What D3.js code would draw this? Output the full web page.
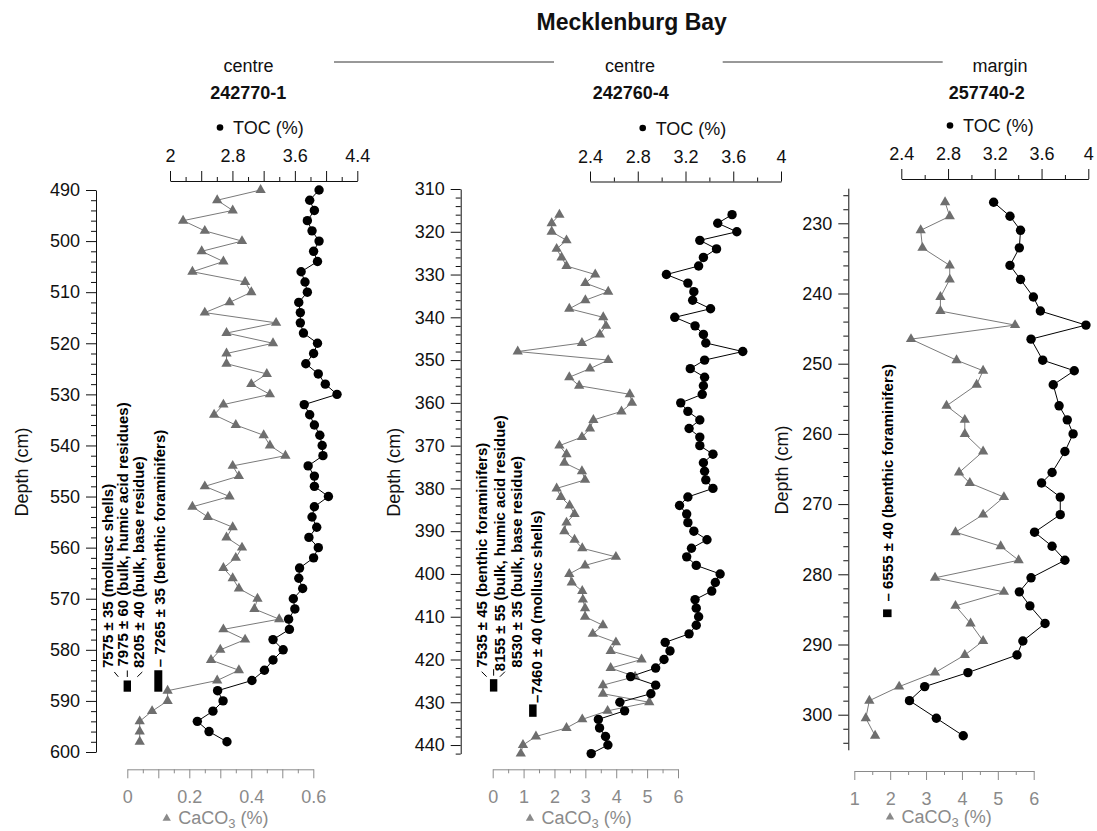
<!DOCTYPE html>
<html>
<head>
<meta charset="utf-8">
<script src="https://cdn.jsdelivr.net/npm/d3@7"></script>
<style>
  body { margin: 0; background: #fff; }
  svg text { font-family: "Liberation Sans", Arial, Helvetica, sans-serif; }
</style>
</head>
<body>
<svg id="chart" width="1097" height="831"></svg>
<script>
// ---------- Core 242770-1 (basin centre) ----------
const depth1 = [490,492,494,496,498,500,502,504,506,508,510,512,514,516,518,520,522,524,526,528,
  530,532,534,536,538,540,542,544,546,548,550,552,554,556,558,560,562,564,566,568,
  570,572,574,576,578,580,582,584,586,588,590,592,594,596,598];
const caco3_1 = [0.43,0.29,0.34,0.18,0.25,0.37,0.24,0.31,0.21,0.38,0.40,0.33,0.25,0.48,0.32,0.47,0.32,0.32,0.45,0.40,
  0.46,0.31,0.28,0.35,0.44,0.46,0.51,0.34,0.36,0.25,0.33,0.21,0.26,0.34,0.32,0.37,0.35,0.31,0.34,0.36,
  0.42,0.41,0.49,0.31,0.38,0.30,0.27,0.36,0.29,0.13,0.13,0.08,0.04,0.04,0.04];
const toc_1 = [3.91,3.79,3.85,3.76,3.82,3.91,3.84,3.89,3.68,3.73,3.76,3.65,3.67,3.67,3.71,3.89,3.84,3.74,3.90,3.99,
  4.14,3.72,3.79,3.85,3.92,3.95,3.96,3.77,3.85,3.85,4.03,3.85,3.82,3.88,3.78,3.90,3.84,3.66,3.65,3.70,
  3.58,3.60,3.52,3.53,3.32,3.45,3.32,3.21,3.05,2.61,2.68,2.55,2.35,2.50,2.73];

// ---------- Core 242760-4 (basin centre) ----------
const depth2 = [316,318,320,322,324,326,328,330,332,334,336,338,340,342,344,346,348,350,352,354,
  356,358,360,362,364,366,368,370,372,374,376,378,380,382,384,386,388,390,392,394,
  396,398,400,402,404,406,408,410,412,414,416,418,420,422,424,426,428,430,432,434,
  436,438,440,442];
const caco3_2 = [2.16,1.91,1.91,2.39,2.07,2.23,2.39,3.32,3.00,3.74,3.00,2.48,3.58,3.67,3.47,2.89,0.81,3.74,3.15,2.48,
  2.80,4.44,4.51,4.17,3.26,3.15,2.89,2.16,2.39,2.32,2.89,2.99,2.07,2.21,2.49,2.65,2.39,2.32,2.65,2.90,
  3.99,2.99,2.48,2.56,2.90,2.92,2.99,2.99,3.57,3.24,3.99,3.82,4.82,3.82,4.61,3.57,3.57,5.07,3.72,2.90,
  2.39,1.40,0.98,0.91];
const toc_2 = [3.59,3.47,3.63,3.32,3.46,3.35,3.31,3.04,3.22,3.27,3.26,3.41,3.11,3.28,3.35,3.37,3.68,3.36,3.24,3.36,
  3.35,3.34,3.16,3.22,3.32,3.23,3.32,3.32,3.43,3.35,3.36,3.37,3.43,3.22,3.15,3.21,3.22,3.27,3.38,3.25,
  3.21,3.29,3.49,3.45,3.42,3.28,3.29,3.31,3.29,3.23,3.03,3.07,3.02,2.95,2.74,2.95,2.91,2.65,2.69,2.47,
  2.48,2.53,2.55,2.41];

// ---------- Core 257740-2 (basin margin) ----------
const depth3 = [227,229,231,233.5,236,238,240.5,242.5,244.5,246.5,249.5,251,253,256,258,260,262.5,265.5,267,269,
  271.5,274,276,278,280.5,282.5,284.5,287,289.5,291.5,294,296,298,300.5,303];
const caco3_3 = [3.53,3.66,2.85,2.90,3.66,3.66,3.40,3.40,5.48,2.58,3.85,4.59,4.41,3.57,4.08,4.08,4.59,3.92,4.22,5.17,
  4.59,3.82,5.08,5.58,3.25,5.17,3.82,4.24,4.59,4.08,3.25,2.25,1.42,1.32,1.58];
const toc_3 = [3.19,3.33,3.42,3.41,3.33,3.42,3.53,3.59,3.98,3.51,3.61,3.88,3.70,3.75,3.82,3.87,3.80,3.69,3.60,3.76,
  3.76,3.54,3.69,3.80,3.51,3.41,3.50,3.63,3.44,3.39,2.97,2.60,2.47,2.70,2.93];

// ---------- Axis ticks ----------
const depthTicks1 = [490,500,510,520,530,540,550,560,570,580,590,600];
const depthTicks2 = [310,320,330,340,350,360,370,380,390,400,410,420,430,440];
const depthTicks3 = [230,240,250,260,270,280,290,300];
const tocTicks1 = [2,2.4,2.8,3.2,3.6,4,4.4];
const tocLabels1 = [2,2.8,3.6,4.4];
const tocTicks23 = [2.4,2.8,3.2,3.6,4];
const caco3Ticks1 = [0,0.1,0.2,0.3,0.4,0.5,0.6];
const caco3Labels1 = [0,0.2,0.4,0.6];
const caco3Ticks2 = [0,1,2,3,4,5,6];
const caco3Ticks3 = [1,2,3,4,5,6];

// ---------- Radiocarbon dates (sample depth range, CaCO3 position) ----------
const datesFan1 = ["7575 ± 35 (mollusc shells)", "7975 ± 60 (bulk, humic acid residues)", "8205 ± 40 (bulk, base residue)"];
const dateFanSample1 = [586, 588.2, 0];
const dateSingle1 = "– 7265 ± 35 (benthic foraminifers)";
const dateSingleSample1 = [584, 588.2, 0.1];

const datesFan2 = ["7535 ± 45 (benthic foraminifers)", "8155 ± 55 (bulk, humic acid residue)", "8530 ± 35 (bulk, base residue)"];
const dateFanSample2 = [424.6, 427.5, 0.03];
const dateSingle2 = "–7460 ± 40 (mollusc shells)";
const dateSingleSample2 = [430.5, 433.4, 1.3];

const dateSingle3 = "– 6555 ± 40 (benthic foraminifers)";
const dateSingleSample3 = [285, 286.1, 1.92];

// ---------- Styles ----------
const GREY = "#6e6e6e";
const AXIS_GREY = "#8a8a8a";
const FONT = 18;

const svg = d3.select("#chart");

const panels = [
  { site: "centre", core: "242770-1", depth: depth1, caco3: caco3_1, toc: toc_1,
    dDom: [490, 600], dRange: [190, 752], dTicks: depthTicks1, dMinorFrom: 492,
    axisX: 96, depthLabelX: 27.5,
    tDom: [2, 4.4], tRange: [170, 357.3], tTicks: tocTicks1, tLabels: tocLabels1, tAxisY: 181,
    cDom: [0, 0.6], cRange: [127.3, 313.3], cTicks: caco3Ticks1, cLabels: caco3Labels1, cMinorStep: 0.05, cAxisY: 769.3,
    headX: 248.5, coreX: 248.3, legDotX: 220, cLegX: 166.7, cTitleDy: 55,
    fan: { labels: datesFan1, sample: dateFanSample1, w: 7.4,
           textX: [-14.7, 0.5, 17], textGap: [12.5, 14, 12.5],
           left: [-13, -8.5, -9, -3.7], right: [15, -8.5, 10, -3.7] },
    single: { label: dateSingle1, sample: dateSingleSample1, w: 8, gap: 3, dx: 6.7 } },
  { site: "centre", core: "242760-4", depth: depth2, caco3: caco3_2, toc: toc_2,
    dDom: [310, 442], dRange: [189, 753.6], dTicks: depthTicks2, dMinorFrom: 312,
    axisX: 460.7, depthLabelX: 400,
    tDom: [2.4, 4], tRange: [590, 781], tTicks: tocTicks23, tLabels: tocTicks23, tAxisY: 181.5,
    cDom: [0, 6], cRange: [492.7, 678], cTicks: caco3Ticks2, cLabels: caco3Ticks2, cMinorStep: 0.5, cAxisY: 769.3,
    headX: 630, coreX: 630.7, legDotX: 642.7, cLegX: 530, cTitleDy: 55,
    fan: { labels: datesFan2, sample: dateFanSample2, w: 7.4,
           textX: [-6.2, 11.3, 28], textGap: [11.5, 8, 11.5],
           left: [-12, -7.5, -7, -2.5], right: [11.3, -7.5, 6.3, -2.5] },
    single: { label: dateSingle2, sample: dateSingleSample2, w: 7.5, gap: 1.5, dx: 8.7 } },
  { site: "margin", core: "257740-2", depth: depth3, caco3: caco3_3, toc: toc_3,
    dDom: [225, 305], dRange: [188.2, 749.8], dTicks: depthTicks3, dMinorFrom: 226,
    axisX: 848.3, depthLabelX: 787.5,
    tDom: [2.4, 4], tRange: [901.3, 1088.3], tTicks: tocTicks23, tLabels: tocTicks23, tAxisY: 179,
    cDom: [1, 6], cRange: [854.3, 1033.7], cTicks: caco3Ticks3, cLabels: caco3Ticks3, cMinorStep: 0.5, cAxisY: 771,
    headX: 1000, coreX: 986.7, legDotX: 950, cLegX: 890, cTitleDy: 52,
    fan: null,
    single: { label: dateSingle3, sample: dateSingleSample3, w: 8.5, gap: 8, dx: 5.8 } }
];

// ---------- Title and site connectors ----------
svg.append("text").attr("x", 631.7).attr("y", 30).attr("text-anchor", "middle")
  .attr("font-size", 23).attr("font-weight", "bold").attr("fill", "#111").text("Mecklenburg Bay");
[[334, 554], [722.7, 942.7]].forEach(([a, b]) => {
  svg.append("line").attr("x1", a).attr("x2", b).attr("y1", 62).attr("y2", 62)
    .attr("stroke", "#333").attr("stroke-width", 1);
});

const triangle = d3.symbol().type(d3.symbolTriangle);

function minorTicks(dom, step, majors) {
  const out = [];
  for (let v = dom[0]; v <= dom[1] + 1e-9; v += step) {
    const r = Math.round(v * 1000) / 1000;
    if (!majors.some(m => Math.abs(m - r) < 1e-6)) out.push(r);
  }
  return out;
}

function styleAxis(g, color) {
  g.selectAll("path, line").attr("stroke", color).attr("stroke-width", 1);
  g.selectAll("text").attr("fill", color).attr("font-size", FONT)
    .attr("font-family", '"Liberation Sans", Arial, sans-serif');
}

const dateText = (x, yy, s) => svg.append("text")
  .attr("transform", `translate(${x},${yy}) rotate(-90)`)
  .attr("font-size", 15).attr("font-weight", "bold").attr("fill", "#000").text(s);

panels.forEach(p => {
  const y = d3.scaleLinear().domain(p.dDom).range(p.dRange);
  const xT = d3.scaleLinear().domain(p.tDom).range(p.tRange);
  const xC = d3.scaleLinear().domain(p.cDom).range(p.cRange);

  // ----- headers -----
  svg.append("text").attr("x", p.headX).attr("y", 71.5).attr("text-anchor", "middle")
    .attr("font-size", FONT).attr("fill", "#111").text(p.site);
  svg.append("text").attr("x", p.coreX).attr("y", 99).attr("text-anchor", "middle")
    .attr("font-size", FONT).attr("font-weight", "bold").attr("fill", "#111").text(p.core);
  const legY = p.tAxisY - 53;
  svg.append("circle").attr("cx", p.legDotX).attr("cy", legY - 0.5).attr("r", 3.3).attr("fill", "#000");
  svg.append("text").attr("x", p.legDotX + 13).attr("y", legY + 6).attr("font-size", FONT)
    .attr("fill", "#111").text("TOC (%)");

  // ----- depth axis -----
  const dMinor = d3.range(p.dMinorFrom, p.dDom[1] + 0.001, 2).filter(v => v % 10 !== 0);
  svg.append("g").attr("transform", `translate(${p.axisX},0)`)
    .call(d3.axisLeft(y).tickValues(dMinor).tickSize(5).tickFormat("").tickSizeOuter(0))
    .call(g => g.select(".domain").remove())
    .call(g => styleAxis(g, "#111"));
  svg.append("g").attr("transform", `translate(${p.axisX},0)`)
    .call(d3.axisLeft(y).tickValues(p.dTicks).tickSize(10).tickPadding(6).tickSizeOuter(0))
    .call(g => styleAxis(g, "#111"));
  svg.append("text")
    .attr("transform", `translate(${p.depthLabelX},${(p.dRange[0] + p.dRange[1]) / 2 + 1}) rotate(-90)`)
    .attr("text-anchor", "middle").attr("font-size", FONT).attr("fill", "#111").text("Depth (cm)");

  // ----- TOC axis (top) -----
  const tMinor = minorTicks(p.tDom, 0.2, p.tTicks);
  svg.append("g").attr("transform", `translate(0,${p.tAxisY})`)
    .call(d3.axisTop(xT).tickValues(tMinor).tickSize(4).tickFormat("").tickSizeOuter(0))
    .call(g => g.select(".domain").remove())
    .call(g => styleAxis(g, "#111"));
  svg.append("g").attr("transform", `translate(0,${p.tAxisY})`)
    .call(d3.axisTop(xT).tickValues(p.tTicks).tickSize(10).tickPadding(9).tickSizeOuter(0)
      .tickFormat(d => p.tLabels.some(l => Math.abs(l - d) < 1e-9) ? d3.format("")(d) : ""))
    .call(g => styleAxis(g, "#111"));

  // ----- CaCO3 axis (bottom) -----
  const cMinor = minorTicks(p.cDom, p.cMinorStep, p.cTicks);
  svg.append("g").attr("transform", `translate(0,${p.cAxisY})`)
    .call(d3.axisBottom(xC).tickValues(cMinor).tickSize(4).tickFormat("").tickSizeOuter(0))
    .call(g => g.select(".domain").remove())
    .call(g => styleAxis(g, AXIS_GREY));
  svg.append("g").attr("transform", `translate(0,${p.cAxisY})`)
    .call(d3.axisBottom(xC).tickValues(p.cTicks).tickSize(9).tickPadding(12).tickSizeOuter(0)
      .tickFormat(d => p.cLabels.some(l => Math.abs(l - d) < 1e-9) ? d3.format("")(d) : ""))
    .call(g => styleAxis(g, AXIS_GREY));

  // CaCO3 axis title
  const cl = svg.append("g");
  cl.append("path").attr("d", triangle.size(30)())
    .attr("transform", `translate(${p.cLegX},${p.cAxisY + p.cTitleDy - 6})`).attr("fill", AXIS_GREY);
  const ct = cl.append("text").attr("x", p.cLegX + 11.5).attr("y", p.cAxisY + p.cTitleDy)
    .attr("font-size", FONT).attr("fill", AXIS_GREY);
  ct.append("tspan").text("CaCO");
  ct.append("tspan").attr("dy", 3.5).attr("font-size", 13).text("3");
  ct.append("tspan").attr("dy", -3.5).text(" (%)");

  // ----- CaCO3 series -----
  const cPts = p.depth.map((d, i) => [xC(p.caco3[i]), y(d)]);
  svg.append("path").attr("d", d3.line()(cPts)).attr("fill", "none")
    .attr("stroke", "#7a7a7a").attr("stroke-width", 1);
  svg.append("g").selectAll("path").data(cPts).join("path")
    .attr("d", triangle.size(46)())
    .attr("transform", d => `translate(${d[0]},${d[1]})`)
    .attr("fill", GREY);

  // ----- TOC series -----
  const tPts = p.depth.map((d, i) => [xT(p.toc[i]), y(d)]);
  svg.append("path").attr("d", d3.line()(tPts)).attr("fill", "none")
    .attr("stroke", "#000").attr("stroke-width", 1);
  svg.append("g").selectAll("circle").data(tPts).join("circle")
    .attr("cx", d => d[0]).attr("cy", d => d[1]).attr("r", 4.7).attr("fill", "#000");

  // ----- radiocarbon dates -----
  if (p.fan) {
    const f = p.fan;
    const [top, bot, at] = f.sample;
    const cx = xC(at), y0 = y(top), y1 = y(bot);
    svg.append("rect").attr("x", cx - f.w / 2).attr("y", y0).attr("width", f.w)
      .attr("height", y1 - y0).attr("fill", "#000");
    // connectors fanning out from the sample to its three ages
    [f.left, [0, -10, 0, -3.5], f.right].forEach(([ax, ay, bx, by]) => {
      svg.append("line").attr("x1", cx + ax).attr("y1", y0 + ay).attr("x2", cx + bx).attr("y2", y0 + by)
        .attr("stroke", "#000").attr("stroke-width", 1);
    });
    f.labels.forEach((s, i) => dateText(cx + f.textX[i], y0 - f.textGap[i], s));
  }
  {
    const s = p.single;
    const [top, bot, at] = s.sample;
    const cx = xC(at), y0 = y(top), y1 = y(bot);
    svg.append("rect").attr("x", cx - s.w / 2).attr("y", y0).attr("width", s.w)
      .attr("height", y1 - y0).attr("fill", "#000");
    dateText(cx + s.dx, y0 - s.gap, s.label);
  }
});
</script>
</body>
</html>
